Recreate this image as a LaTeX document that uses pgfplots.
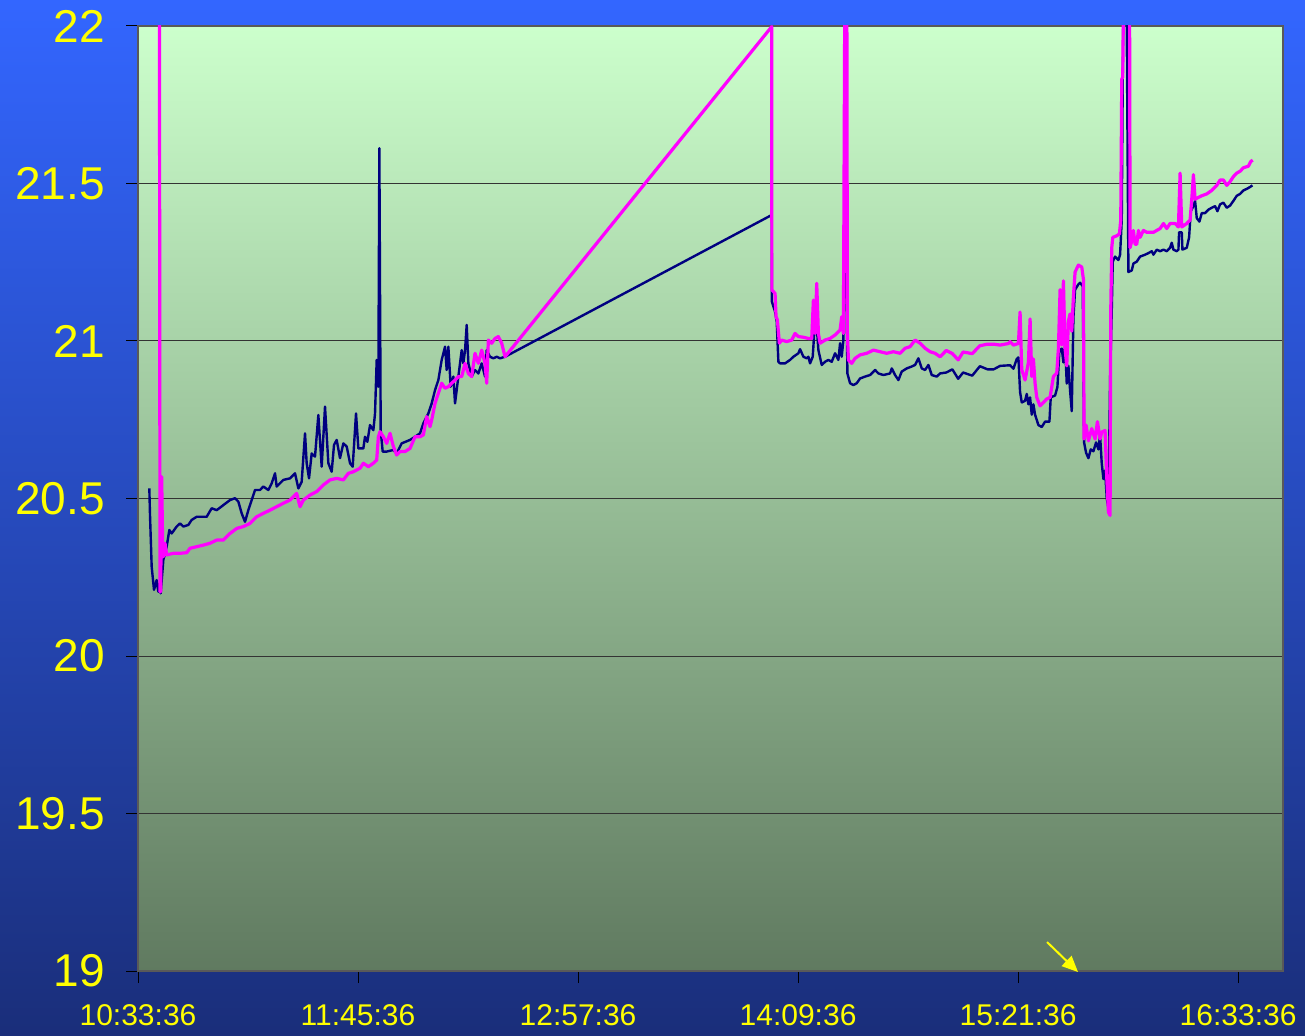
\documentclass[border=0pt]{standalone}
\usepackage{fontspec}
\setmainfont{Liberation Sans}
\usepackage{pgfplots}
\pgfplotsset{compat=1.18}
\usetikzlibrary{arrows.meta}
\definecolor{bgtop}{RGB}{51,102,255}
\definecolor{bgbot}{RGB}{26,46,122}
\definecolor{pltop}{RGB}{204,255,204}
\definecolor{plbot}{RGB}{96,122,96}
\definecolor{navyc}{RGB}{0,0,128}
\definecolor{magc}{RGB}{255,0,255}
\definecolor{tickyel}{RGB}{255,255,0}
\begin{document}
\begin{tikzpicture}
\path[use as bounding box] (0,0) rectangle (652.5pt,517.5pt);
\shade[top color=bgtop, bottom color=bgbot] (0,0) rectangle (652.5pt,517.5pt);
\begin{axis}[
  at={(69pt,32pt)}, anchor=south west,
  width=572.5pt, height=472.5pt, scale only axis,
  xmin=0, xmax=374.7, ymin=19, ymax=22,
  axis background/.style={top color=pltop, bottom color=plbot},
  axis line style={draw=black!65, line width=0.6pt},
  xtick={0,72,144,216,288,360},
  xticklabels={10:33:36,11:45:36,12:57:36,14:09:36,15:21:36,16:33:36},
  ytick={19,19.5,20,20.5,21,21.5,22},
  yticklabels={19,19.5,20,20.5,21,21.5,22},
  tick align=outside, major tick length=6pt,
  tick style={draw=black, line width=0.5pt},
  xtick pos=bottom, ytick pos=left,
  ymajorgrids, major grid style={draw=black!80, line width=0.5pt},
  /pgf/number format/assume math mode=true,
  yticklabel style={font=\fontsize{23}{27}\selectfont, text=tickyel, anchor=east, xshift=-7pt},
  xticklabel style={font=\fontsize{15}{18}\selectfont, text=tickyel, anchor=north, yshift=-7pt},
  clip=true,
]
\addplot[navyc, line width=1.2pt, line join=round] coordinates {
(3.709,20.532)(3.927,20.448)(4.473,20.284)(5.237,20.210)(6.109,20.241)(6.655,20.204)(7.200,20.231)(7.418,20.199)(8.291,20.305)(9.382,20.347)(10.255,20.400)(11.018,20.389)(12.655,20.411)(13.746,20.421)(14.836,20.411)(16.473,20.416)(17.564,20.432)(19.200,20.442)(20.836,20.442)(22.473,20.442)(24.109,20.469)(25.746,20.463)(27.927,20.479)(30.109,20.495)(31.746,20.501)(32.836,20.490)(33.927,20.453)(35.018,20.426)(36.109,20.463)(37.200,20.495)(38.291,20.527)(39.927,20.527)(41.018,20.538)(42.655,20.527)(43.746,20.548)(44.836,20.580)(45.382,20.538)(47.564,20.559)(49.746,20.564)(51.382,20.580)(52.473,20.532)(53.564,20.553)(54.655,20.707)(55.200,20.612)(55.964,20.564)(56.836,20.643)(57.927,20.633)(59.018,20.765)(60.109,20.601)(61.200,20.792)(62.291,20.612)(63.382,20.585)(64.146,20.670)(65.018,20.686)(66.109,20.628)(67.200,20.675)(68.291,20.665)(69.382,20.612)(70.255,20.601)(71.346,20.770)(72.109,20.659)(73.746,20.659)(74.291,20.696)(75.055,20.680)(75.928,20.733)(77.018,20.717)(77.564,20.770)(78.109,20.940)(78.655,20.855)(78.982,21.612)(79.418,20.717)(80.073,20.649)(81.382,20.649)(83.564,20.654)(84.655,20.643)(86.291,20.675)(89.018,20.686)(90.655,20.696)(92.291,20.707)(93.382,20.739)(95.018,20.770)(96.109,20.802)(97.200,20.844)(98.291,20.876)(99.382,20.940)(100.473,20.982)(101.018,20.908)(101.564,20.982)(102.327,20.855)(103.200,20.887)(103.746,20.802)(104.837,20.887)(105.927,20.971)(106.473,20.929)(107.018,20.971)(107.564,21.051)(108.109,20.929)(109.200,20.887)(110.291,20.908)(111.382,20.897)(112.473,20.929)(113.564,20.887)(114.109,20.971)(115.200,20.950)(116.291,20.945)(117.382,20.950)(118.473,20.945)(120.109,20.950)
(207.382,21.400)(207.436,21.125)(208.473,21.093)(209.018,21.061)(209.564,20.934)(210.109,20.929)(211.746,20.929)(213.382,20.940)(214.473,20.950)(216.109,20.961)(216.655,20.974)(217.746,20.950)(218.836,20.945)(219.382,20.950)(219.927,20.929)(220.800,20.950)(221.564,21.067)(222.109,21.046)(222.655,20.971)(223.746,20.924)(224.836,20.934)(225.927,20.940)(227.018,20.934)(228.109,20.961)(229.200,20.940)(229.746,20.993)(230.291,20.950)(230.836,21.003)(231.382,21.553)(232.145,20.897)(233.018,20.866)(234.109,20.860)(235.200,20.866)(236.291,20.881)(237.927,20.887)(239.564,20.892)(241.200,20.908)(242.291,20.897)(243.927,20.892)(246.109,20.897)(246.655,20.913)(247.745,20.892)(248.836,20.876)(249.927,20.903)(251.564,20.913)(253.200,20.919)(254.291,20.924)(255.382,20.945)(256.473,20.913)(257.564,20.908)(258.655,20.924)(259.745,20.892)(261.382,20.887)(262.473,20.897)(264.5,20.90)(266.5,20.91)(268.4,20.88)(270,20.90)(273,20.89)(275.5,20.92)(278,20.91)(280,20.91)
(282.109,20.921)(285.382,20.923)(286.473,20.912)(287.564,20.943)(288.109,20.948)(288.655,20.838)(289.200,20.805)(290.291,20.810)(290.836,20.832)(291.382,20.799)(291.927,20.821)(292.473,20.766)(293.018,20.799)(293.564,20.766)(294.655,20.733)(295.745,20.727)(296.836,20.744)(298.255,20.744)(298.691,20.821)(300.109,20.827)(300.873,20.854)(301.527,20.970)(302.291,20.976)(302.836,20.932)(303.382,20.987)(303.927,20.865)(304.473,20.921)(305.018,20.843)(305.564,20.777)(306.109,21.075)(306.655,21.163)(307.745,21.180)(308.291,21.185)(309.164,21.174)(309.600,20.678)(310.255,20.645)(311.018,20.628)(311.782,20.656)(312.655,20.650)(313.527,20.678)(314.291,20.656)(314.836,20.700)(315.382,20.611)(315.927,20.562)(316.473,20.589)(317.018,20.501)(317.564,20.468)(318.109,20.876)(318.655,21.097)(318.982,21.252)(319.745,21.268)(320.836,21.257)(321.382,21.274)(321.927,21.384)(322.255,21.837)(322.691,22.3)(323.345,22.3)(324.109,21.219)(325.200,21.224)(325.745,21.246)(326.836,21.252)(327.927,21.268)(329.564,21.274)(330.655,21.279)(331.745,21.285)(332.291,21.274)(333.382,21.290)(334.473,21.285)(335.564,21.290)(336.655,21.285)(337.745,21.296)(338.291,21.312)(338.836,21.290)(339.927,21.285)(340.473,21.290)(340.691,21.345)(341.564,21.345)(341.782,21.290)(343.200,21.296)(343.964,21.329)(344.509,21.412)(345.382,21.428)(345.927,21.445)(346.473,21.390)(347.345,21.379)(348.109,21.406)(349.200,21.406)(350.291,21.417)(351.382,21.423)(352.473,21.428)(353.236,21.412)(354.109,21.434)(355.200,21.439)(356.291,21.423)(357.382,21.430)(358.473,21.445)(359.564,21.461)(360.655,21.467)(361.745,21.478)(362.836,21.483)(363.927,21.489)(364.691,21.494)
};
\addplot[magc, line width=1.6pt, line join=round] coordinates {
(7.0,22.3)(7.2,20.204)(7.418,20.204)(7.746,20.569)(8.073,20.347)(8.291,20.315)(8.837,20.358)(9.382,20.321)(11.564,20.326)(13.746,20.326)(15.927,20.328)(17.018,20.342)(19.200,20.347)(21.382,20.352)(23.564,20.358)(25.746,20.368)(27.927,20.368)(30.109,20.389)(32.291,20.405)(34.473,20.411)(36.655,20.421)(38.836,20.442)(41.018,20.453)(43.200,20.463)(45.382,20.474)(47.564,20.485)(49.746,20.495)(51.928,20.516)(53.018,20.474)(54.109,20.495)(56.291,20.511)(58.473,20.522)(60.655,20.543)(62.836,20.559)(65.018,20.564)(67.200,20.559)(68.837,20.580)(70.473,20.585)(72.655,20.596)(73.746,20.612)(75.382,20.601)(77.018,20.612)(78.109,20.622)(78.655,20.696)(79.200,20.712)(80.291,20.696)(81.382,20.675)(82.473,20.707)(83.564,20.665)(84.655,20.638)(85.746,20.649)(87.382,20.649)(89.018,20.659)(90.655,20.696)(92.291,20.696)(93.382,20.702)(94.473,20.760)(95.564,20.728)(96.109,20.749)(97.200,20.802)(98.291,20.834)(99.382,20.866)(100.473,20.850)(101.564,20.855)(102.655,20.866)(103.746,20.876)(104.837,20.887)(105.927,20.887)(107.018,20.929)(108.109,20.897)(109.200,20.887)(110.291,20.961)(111.382,20.929)(112.473,20.971)(113.564,20.929)(114.109,20.866)(114.655,21.003)(115.746,20.993)(116.837,21.008)(117.927,21.014)(119.018,20.993)(120.109,20.950)
(207.382,21.998)(207.436,21.162)(207.927,21.157)(208.473,21.151)(208.800,21.077)(209.236,21.067)(209.891,20.993)(210.655,21.003)(212.291,20.998)(213.927,21.003)(215.018,21.024)(216.109,21.014)(217.746,21.012)(219.382,21.008)(220.473,21.008)(221.018,21.130)(221.564,21.024)(222.109,21.183)(222.655,21.024)(223.200,20.993)(224.836,21.003)(226.473,21.008)(228.109,21.019)(229.746,21.035)(230.291,21.077)(230.836,21.024)(231.382,22.3)(231.927,22.3)(232.145,21.024)(232.473,20.940)(233.564,20.929)(234.655,20.945)(236.291,20.956)(238.473,20.961)(240.655,20.971)(242.836,20.966)(245.018,20.961)(247.200,20.966)(249.382,20.961)(251.018,20.977)(252.655,20.982)(254.291,21.003)(255.927,20.993)(257.564,20.977)(259.200,20.966)(260.836,20.961)(262.473,20.950)(264.5,20.97)(266.5,20.96)(268.4,20.94)(270,20.965)(273,20.96)(275.5,20.985)(278,20.99)(280,20.99)
(282.109,20.987)(284.836,20.992)(285.382,20.998)(286.473,20.987)(288.109,20.992)(288.655,21.092)(289.200,20.909)(290.291,20.876)(291.382,20.932)(291.927,21.070)(292.473,20.887)(293.018,20.943)(293.564,20.865)(294.109,20.821)(295.200,20.794)(296.291,20.805)(297.382,20.816)(298.473,20.821)(299.564,20.887)(300.655,20.898)(301.200,20.976)(301.745,21.163)(302.291,20.987)(302.836,21.191)(303.382,20.976)(303.927,20.921)(304.473,21.064)(305.018,21.086)(305.564,21.031)(306.109,21.141)(306.655,21.219)(307.745,21.241)(308.836,21.235)(309.382,21.196)(309.600,20.689)(310.255,20.733)(311.018,20.683)(312.109,20.722)(313.200,20.689)(313.964,20.744)(314.836,20.689)(315.382,20.711)(316.473,20.716)(317.018,20.567)(317.564,20.457)(318.109,20.446)(318.327,21.097)(318.655,21.296)(318.982,21.329)(320.291,21.334)(321.164,21.340)(321.600,21.384)(321.927,21.831)(322.255,21.837)(322.691,22.3)(324.436,22.3)(324.655,21.296)(325.200,21.318)(325.745,21.351)(326.291,21.307)(326.836,21.307)(327.382,21.351)(327.927,21.329)(329.018,21.351)(330.109,21.345)(332.291,21.345)(334.473,21.357)(335.564,21.373)(336.655,21.357)(337.745,21.373)(339.382,21.373)(340.473,21.362)(341.018,21.533)(341.564,21.362)(343.200,21.373)(344.291,21.384)(344.836,21.450)(345.382,21.528)(345.927,21.450)(347.018,21.456)(348.109,21.461)(349.745,21.467)(351.382,21.478)(353.018,21.494)(354.109,21.511)(355.200,21.511)(356.291,21.494)(357.382,21.506)(358.473,21.522)(359.564,21.533)(360.655,21.539)(361.745,21.550)(363.382,21.555)(364.145,21.570)(364.800,21.574)
};
\end{axis}
\draw[tickyel, line width=1pt, -{Triangle[width=7pt,length=8pt]}] (523.5pt,46.5pt) -- (539pt,31.5pt);
\end{tikzpicture}
\end{document}
